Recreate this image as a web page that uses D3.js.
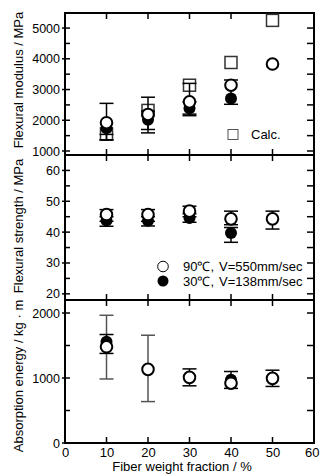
<!DOCTYPE html>
<html><head><meta charset="utf-8">
<script src="https://cdn.jsdelivr.net/npm/d3@7"></script>
<style>body{margin:0;background:#fff}svg{display:block}text{font-family:Arial,"Liberation Sans",sans-serif;fill:#000}</style>
</head><body>
<script>
const fiber = [10, 20, 30, 40, 50];
const xTicks = [0, 10, 20, 30, 40, 50, 60];

// Panel 1: Flexural modulus (MPa)
const modOpen = [1920, 2190, 2600, 3140, 3830];
const modOpenErr = [[1360, 2550], [1590, 2750], [2150, 3200], [2520, 3310], null];
const modFilled = [1740, 2020, 2390, 2710, null];
const modFilledErr = [[1360, 1540], [1700, 2300], [2200, 2600], null, null];
const modCalc = [1560, 2320, 3140, 3880, 5250];
const modTicks = [1000, 2000, 3000, 4000, 5000];

// Panel 2: Flexural strength (MPa)
const strOpen = [45.7, 45.7, 46.8, 44.3, 44.3];
const strOpenErr = [[43.5, 47.3], [43.5, 47.3], [45, 48.4], [42.4, 46.8], [41, 46.8]];
const strFilled = [43.8, 43.7, 44.6, 39.7, null];
const strFilledErr = [[41.9, 45], [42, 45], [43.2, 46], [36.7, 41.5], null];
const strTicks = [20, 30, 40, 50, 60];

// Panel 3: Absorption energy
const absOpen = [1480, 1133, 1010, 920, 995];
const absOpenErr = [[1378, 1669], null, [880, 1140], [840, 1100], [870, 1120]];
const absFilled = [1556, 1140, 1010, 975, 995];
const absFilledErr = [[985, 1965], [637, 1658], null, null, null];
const absTicks = [0, 1000, 2000];

const W = 320, H = 475;
const L = 65, R = 314;
const svg = d3.select("body").append("svg").attr("width", W).attr("height", H);
const x = d3.scaleLinear().domain([0, 60]).range([L, R]);

const panels = [
  {top: 13, bot: 155, dom: [870, 5490], ticks: modTicks, minor: d3.range(1500, 5000, 1000), rtick: d3.range(1000, 5001, 500),
   title: "Flexural modulus / MPa", tcy: 80,
   open: modOpen, openErr: modOpenErr, filled: modFilled, filledErr: modFilledErr, calc: modCalc},
  {top: 155, bot: 300, dom: [18, 65], ticks: strTicks, minor: d3.range(25, 60, 10), rtick: d3.range(20, 61, 5),
   title: "Flexural strength / MPa", tcy: 226,
   open: strOpen, openErr: strOpenErr, filled: strFilled, filledErr: strFilledErr},
  {top: 300, bot: 443, dom: [0, 2200], ticks: absTicks, minor: [500, 1500], rtick: d3.range(0, 2001, 500),
   title: "Absorption energy / kg · m", tcy: 376,
   open: absOpen, openErr: absOpenErr, filled: absFilled, filledErr: absFilledErr, errColor: "#555"}
];

panels.forEach((p, pi) => {
  const y = d3.scaleLinear().domain(p.dom).range([p.bot, p.top]);
  const g = svg.append("g");
  const ax = d3.axisLeft(y).tickValues(p.ticks).tickSize(0).tickPadding(5).tickFormat(d3.format("d"));
  const ag = g.append("g").attr("transform", `translate(${L},0)`).call(ax);
  ag.select(".domain").remove();
  ag.selectAll("text").style("font-size", "12.5px").style("font-family", "Arial, 'Liberation Sans', sans-serif");
  g.selectAll(".lmaj").data(p.ticks).join("line")
    .attr("x1", L - 3).attr("x2", L + 5).attr("y1", d => y(d)).attr("y2", d => y(d))
    .attr("stroke", "#000").attr("stroke-width", 1.5);
  g.selectAll(".lmin").data(p.minor).join("line")
    .attr("x1", L).attr("x2", L + 5).attr("y1", d => y(d)).attr("y2", d => y(d))
    .attr("stroke", "#000").attr("stroke-width", 1.5);
  g.selectAll(".rt").data(p.rtick).join("line")
    .attr("x1", R - 7).attr("x2", R).attr("y1", d => y(d)).attr("y2", d => y(d))
    .attr("stroke", "#000").attr("stroke-width", 1.5);
  fiber.forEach(v => {
    g.append("line").attr("x1", x(v)).attr("x2", x(v)).attr("y1", p.top - 1).attr("y2", p.top + 6)
      .attr("stroke", "#000").attr("stroke-width", 1.5);
    g.append("line").attr("x1", x(v)).attr("x2", x(v)).attr("y1", p.bot + 1).attr("y2", p.bot - 6)
      .attr("stroke", "#000").attr("stroke-width", 1.5);
  });
  g.append("rect").attr("x", L).attr("y", p.top).attr("width", R - L).attr("height", p.bot - p.top)
    .attr("fill", "none").attr("stroke", "#000").attr("stroke-width", 2);
  g.append("text").attr("transform", `translate(23,${p.tcy}) rotate(-90)`).attr("text-anchor", "middle")
    .style("font-size", "13px").text(p.title);

  if (p.calc) {
    g.selectAll(".sq").data(p.calc.map((v, i) => [fiber[i], v])).join("rect")
      .attr("x", d => x(d[0]) - 6).attr("y", d => y(d[1]) - 6).attr("width", 12).attr("height", 12)
      .attr("fill", "#fff").attr("stroke", "#333").attr("stroke-width", 1.5);
  }
  function errs(arr, color) {
    arr.forEach((e, i) => {
      if (!e) return;
      const cx = x(fiber[i]);
      const eg = g.append("g").attr("stroke", color).attr("stroke-width", 1.5);
      eg.append("line").attr("x1", cx).attr("x2", cx).attr("y1", y(e[0])).attr("y2", y(e[1]));
      eg.append("line").attr("x1", cx - 7).attr("x2", cx + 7).attr("y1", y(e[0])).attr("y2", y(e[0]));
      eg.append("line").attr("x1", cx - 7).attr("x2", cx + 7).attr("y1", y(e[1])).attr("y2", y(e[1]));
    });
  }
  errs(p.filledErr, p.errColor || "#000");
  errs(p.openErr, "#000");
  g.selectAll(".fc").data(p.filled.map((v, i) => [fiber[i], v]).filter(d => d[1] != null)).join("circle")
    .attr("cx", d => x(d[0])).attr("cy", d => y(d[1])).attr("r", 6).attr("fill", "#000");
  g.selectAll(".oc").data(p.open.map((v, i) => [fiber[i], v])).join("circle")
    .attr("cx", d => x(d[0])).attr("cy", d => y(d[1])).attr("r", 5.8)
    .attr("fill", "#fff").attr("stroke", "#000").attr("stroke-width", 2);

  if (pi === 2) {
    const xa = d3.axisBottom(x).tickValues(xTicks).tickSize(0).tickPadding(5).tickFormat(d3.format("d"));
    const xg = svg.append("g").attr("transform", `translate(0,${p.bot})`).call(xa);
    xg.select(".domain").remove();
    xg.selectAll("text").style("font-size", "13px").style("font-family", "Arial, 'Liberation Sans', sans-serif")
      .filter(d => d === 60).attr("text-anchor", "end").attr("x", W - 1 - R);
  }
});

svg.append("text").attr("x", 182).attr("y", 471).attr("text-anchor", "middle")
  .style("font-size", "13px").text("Fiber weight fraction / %");

svg.append("rect").attr("x", 228).attr("y", 129.5).attr("width", 10).attr("height", 10)
  .attr("fill", "#fff").attr("stroke", "#555").attr("stroke-width", 1);
svg.append("text").attr("x", 251).attr("y", 139).style("font-size", "13px").text("Calc.");

const legY = [266.5, 281];
svg.append("circle").attr("cx", 163).attr("cy", legY[0]).attr("r", 5.3).attr("fill", "#fff").attr("stroke", "#000").attr("stroke-width", 1);
svg.append("circle").attr("cx", 163).attr("cy", legY[1]).attr("r", 5.5).attr("fill", "#000");
svg.append("text").attr("x", 183).attr("y", legY[0] + 4.5).style("font-size", "13px").text("90℃,");
svg.append("text").attr("x", 219).attr("y", legY[0] + 4.5).style("font-size", "13px").text("V=550mm/sec");
svg.append("text").attr("x", 183).attr("y", legY[1] + 4.5).style("font-size", "13px").text("30℃,");
svg.append("text").attr("x", 219).attr("y", legY[1] + 4.5).style("font-size", "13px").text("V=138mm/sec");
</script>
</body></html>
